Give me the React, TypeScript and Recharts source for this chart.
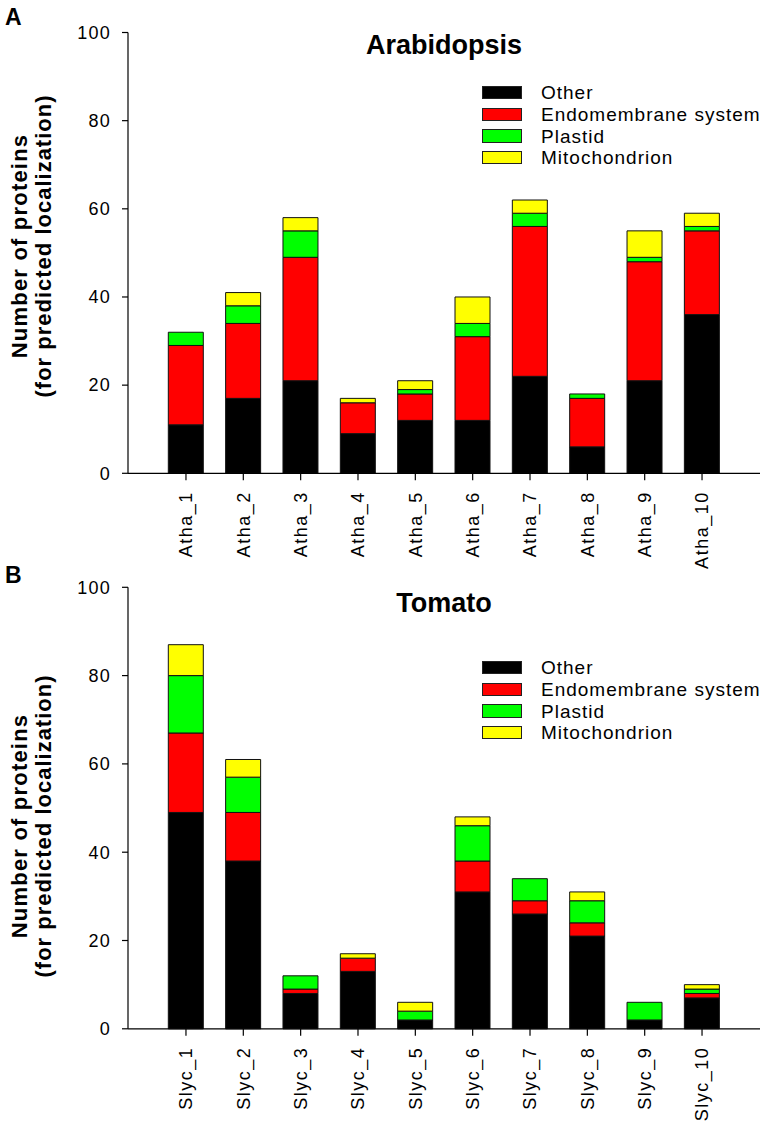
import React from 'react';
import { BarChart, Bar, XAxis, YAxis, Legend } from 'recharts';

const FONT = '"Liberation Sans", Arial, Helvetica, sans-serif';

const athaCategories = ['Atha_1', 'Atha_2', 'Atha_3', 'Atha_4', 'Atha_5', 'Atha_6', 'Atha_7', 'Atha_8', 'Atha_9', 'Atha_10'];
const athaOther = [11, 17, 21, 9, 12, 12, 22, 6, 21, 36];
const athaEndo = [18, 17, 28, 7, 6, 19, 34, 11, 27, 19];
const athaPlastid = [3, 4, 6, 0, 1, 3, 3, 1, 1, 1];
const athaMito = [0, 3, 3, 1, 2, 6, 3, 0, 6, 3];

const slycCategories = ['Slyc_1', 'Slyc_2', 'Slyc_3', 'Slyc_4', 'Slyc_5', 'Slyc_6', 'Slyc_7', 'Slyc_8', 'Slyc_9', 'Slyc_10'];
const slycOther = [49, 38, 8, 13, 2, 31, 26, 21, 2, 7];
const slycEndo = [18, 11, 1, 3, 0, 7, 3, 3, 0, 1];
const slycPlastid = [13, 8, 3, 0, 2, 8, 5, 5, 4, 1];
const slycMito = [7, 4, 0, 1, 2, 2, 0, 2, 0, 1];

const yTicks = [0, 20, 40, 60, 80, 100];

const seriesNames = ['Other', 'Endomembrane system', 'Plastid', 'Mitochondrion'];
const seriesColors = ['#000000', '#ff0000', '#00ff00', '#ffff00'];
const seriesKeys = ['other', 'endo', 'plastid', 'mito'];

function buildRows(cats: string[], a: number[], b: number[], c: number[], d: number[]) {
  return cats.map((name, i) => ({ name, other: a[i], endo: b[i], plastid: c[i], mito: d[i] }));
}

const athaData = buildRows(athaCategories, athaOther, athaEndo, athaPlastid, athaMito);
const slycData = buildRows(slycCategories, slycOther, slycEndo, slycPlastid, slycMito);

const XTick = (props: any) => {
  const { x, y, payload } = props;
  return (
    <text
      x={x}
      y={y}
      transform={`rotate(-90 ${x} ${y})`}
      textAnchor="end"
      dy="0.35em"
      fontSize={18}
      letterSpacing={1.5}
      fill="#000"
      fontFamily={FONT}
    >
      {payload.value}
    </text>
  );
};

const YTick = (props: any) => {
  const { x, y, payload } = props;
  return (
    <text x={x} y={y} textAnchor="end" dy="0.35em" fontSize={18} letterSpacing={1.2} fill="#000" fontFamily={FONT}>
      {payload.value}
    </text>
  );
};

const LegendBox = () => (
  <div style={{ fontFamily: FONT }}>
    {seriesNames.map((n, i) => (
      <div key={n} style={{ display: 'flex', alignItems: 'center', height: 21.7 }}>
        <div
          style={{
            width: 38,
            height: 11.5,
            background: seriesColors[i],
            border: '1px solid #222',
            marginRight: 19,
          }}
        />
        <span style={{ fontSize: 19, letterSpacing: 1, color: '#000', lineHeight: '21px', whiteSpace: 'nowrap' }}>{n}</span>
      </div>
    ))}
  </div>
);

type PanelProps = {
  data: any[];
  height: number;
  marginTop: number;
  xAxisHeight: number;
  legendTop: number;
};

const Panel = ({ data, height, marginTop, xAxisHeight, legendTop }: PanelProps) => (
  <BarChart
    width={768}
    height={height}
    data={data}
    margin={{ top: marginTop, right: 8, bottom: 0, left: 0 }}
    barSize={35}
  >
    <XAxis
      dataKey="name"
      type="category"
      height={xAxisHeight}
      padding={{ left: 29.3, right: 29.3 }}
      axisLine={{ stroke: '#000', strokeWidth: 1.2 }}
      tickLine={{ stroke: '#000', strokeWidth: 1.2 }}
      tickSize={7}
      tickMargin={11}
      interval={0}
      tick={<XTick />}
    />
    <YAxis
      type="number"
      domain={[0, 100]}
      ticks={yTicks}
      width={128}
      axisLine={{ stroke: '#000', strokeWidth: 1.2 }}
      tickLine={{ stroke: '#000', strokeWidth: 1.2 }}
      tickSize={6}
      tickMargin={11}
      tick={<YTick />}
    />
    <Legend
      layout="horizontal"
      verticalAlign="middle"
      align="center"
      content={() => <LegendBox />}
      wrapperStyle={{ position: 'absolute', left: 482, top: legendTop, width: 290, height: 90 }}
    />
    {seriesKeys.map((k, i) => (
      <Bar
        key={k}
        dataKey={k}
        name={seriesNames[i]}
        stackId="s"
        fill={seriesColors[i]}
        stroke="#111"
        strokeWidth={1}
        isAnimationActive={false}
      />
    ))}
  </BarChart>
);

const YLabel = ({ cy }: { cy: number }) => (
  <g fontFamily={FONT} fontWeight="bold" fontSize={22} fill="#000">
    <text x={27} y={cy} transform={`rotate(-90 27 ${cy})`} textAnchor="middle" letterSpacing={1.2}>
      Number of proteins
    </text>
    <text x={51} y={cy} transform={`rotate(-90 51 ${cy})`} textAnchor="middle" letterSpacing={1.0}>
      (for predicted localization)
    </text>
  </g>
);

export default function App() {
  return (
    <div style={{ position: 'absolute', left: 0, top: 0, width: 768, height: 1125, background: '#fff', overflow: 'hidden' }}>
      <div style={{ position: 'absolute', left: 0, top: 0 }}>
        <Panel data={athaData} height={600} marginTop={32.5} xAxisHeight={126.7} legendTop={81.8} />
      </div>
      <div style={{ position: 'absolute', left: 0, top: 555 }}>
        <Panel data={slycData} height={570} marginTop={32.3} xAxisHeight={96.2} legendTop={101.8} />
      </div>
      <svg width={768} height={1125} style={{ position: 'absolute', left: 0, top: 0, pointerEvents: 'none' }}>
        <text x={5} y={25} fontFamily={FONT} fontWeight="bold" fontSize={23} fill="#000">A</text>
        <text x={5} y={583} fontFamily={FONT} fontWeight="bold" fontSize={23} fill="#000">B</text>
        <text x={444} y={54} textAnchor="middle" fontFamily={FONT} fontWeight="bold" fontSize={27} fill="#000">Arabidopsis</text>
        <text x={444} y={612} textAnchor="middle" fontFamily={FONT} fontWeight="bold" fontSize={27} fill="#000">Tomato</text>
        <YLabel cy={246} />
        <YLabel cy={826} />
      </svg>
    </div>
  );
}
